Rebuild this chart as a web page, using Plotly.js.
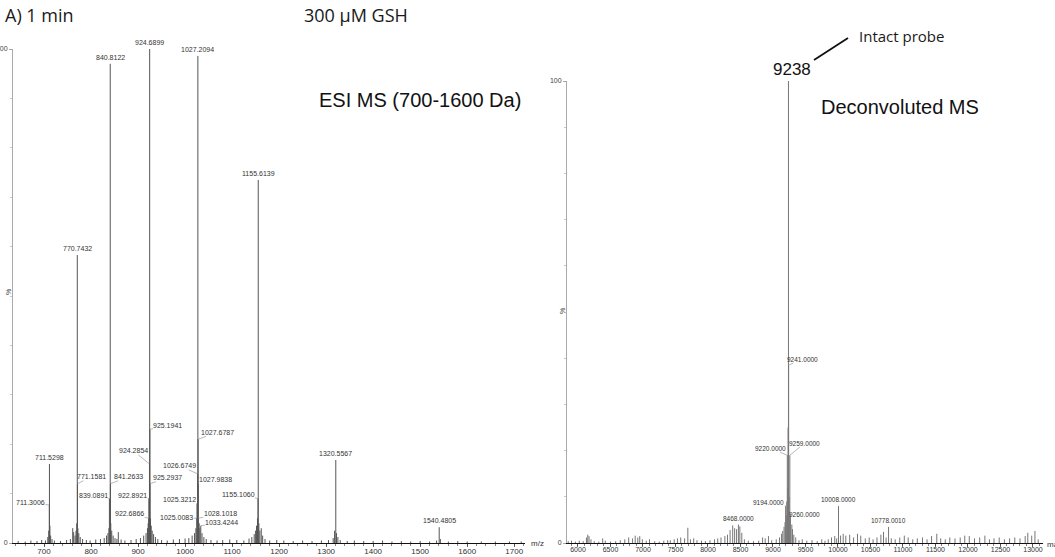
<!DOCTYPE html>
<html>
<head>
<meta charset="utf-8">
<script src="https://cdn.plot.ly/plotly-3.0.1.min.js"></script>
<style>html,body{margin:0;padding:0;background:#fff;}#chart{width:1055px;height:557px;}</style>
</head>
<body>
<div id="chart"></div>
<script>
// ---------- DATA ----------
// Left panel: ESI MS (m/z, relative intensity %)
const leftMainMz   = [711.5298, 770.7432, 840.8122, 924.6899, 1027.2094, 1155.6139, 1320.5567, 1540.4805];
const leftMainPct  = [16, 58.3, 97, 100, 98.6, 73.5, 16.8, 3.2];
const leftMinorMz  = [711.3006, 771.1581, 841.2633, 839.0891, 924.2854, 922.8921, 922.6866, 925.1941, 925.2937,
                      1027.6787, 1026.6749, 1027.9838, 1025.3212, 1025.0083, 1028.1018, 1033.4244, 1155.1060];
const leftMinorPct = [7.7, 12, 12, 9, 16, 9, 5, 23, 12, 21, 14, 12, 8, 5, 5, 3.5, 9];
const leftNoiseMz  = [645,660,672,685,695,703,708,710,712.5,714,717,722,735,748,756,761,763,766,768,769.5,772,774,777,782,790,798,
  810,820,828,833,836,838,842,844,847,851,855,858,864,872,885,896,905,912,917,920,921.5,926.5,928,930,933,937,942,950,962,975,
  988,1000,1008,1015,1020,1023,1030,1031.5,1036,1040,1045,1055,1068,1080,1095,1110,1125,1136,1142,1147,1150,1152,1154,1157,
  1159,1162,1165,1170,1180,1195,1210,1230,1250,1270,1290,1305,1315,1318,1322,1325,1330,1345,1360,1380,1400,1420,1440,1460,
  1480,1500,1520,1535,1543,1560,1580,1600,1630,1660,1690,1715];
const leftNoisePct = [0.4,0.3,0.5,0.4,0.6,0.5,1.2,2.5,3.5,1.5,0.8,0.5,0.4,0.6,0.8,3,2.2,1.5,2.5,4,3,2,1.2,0.8,0.6,0.5,
  0.7,0.8,1,1.5,2,3,4,2.5,1.5,1,0.8,2.2,0.7,0.5,0.6,0.8,1,1.5,2,3,4,5,3.5,2.5,1.8,1.2,0.8,0.6,0.5,0.7,
  0.8,0.9,1,1.5,2,3,4,3,2,1.2,0.8,0.6,0.5,0.6,0.7,0.6,0.5,0.9,1.2,1.8,2.5,3.5,5,4,
  2.5,3,1.5,0.8,0.5,0.6,0.5,0.4,0.5,0.4,0.5,0.6,1,2.5,2,1.2,0.6,0.4,0.5,0.4,0.4,0.5,0.3,0.4,
  0.3,0.4,0.3,0.5,0.8,0.3,0.4,0.3,0.3,0.3,0.3,0.3];
const leftXTicks = [700, 800, 900, 1000, 1100, 1200, 1300, 1400, 1500, 1600, 1700];

// Right panel: deconvoluted MS (mass, relative intensity %)
const rightMainMass  = [9238, 8468, 10008, 10778.001];
const rightMainPct   = [100, 4, 8, 3.5];
const rightMainText  = ["", "8468.0000", "10008.0000", "10778.0010"];
const rightMinorMass = [9241, 9220, 9259, 9194, 9260];
const rightMinorPct  = [38.5, 19, 19, 8, 5.5];
const rightNoiseMass = [5850,5900,5960,6020,6080,6130,6150,6170,6200,6250,6320,6380,6420,6500,6580,6650,6720,6780,6840,6880,
  6920,6950,6990,7050,7100,7180,7250,7320,7380,7420,7480,7530,7580,7640,7690,7730,7780,7830,7900,7960,8030,8100,8150,8200,
  8260,8300,8340,8380,8410,8440,8490,8520,8560,8620,8700,8780,8840,8880,8930,8980,9050,9100,9130,9150,9170,9185,9205,9212,
  9228,9232,9248,9268,9290,9300,9320,9350,9400,9450,9520,9600,9680,9750,9800,9850,9900,9950,9980,10040,10080,10120,10180,
  10240,10300,10350,10420,10480,10540,10600,10660,10700,10740,10820,10880,10950,11020,11080,11150,11220,11300,11370,11440,
  11520,11580,11650,11720,11800,11880,11950,12020,12100,12180,12260,12330,12400,12480,12560,12640,12720,12800,12880,12920,
  12980,13030,13080];
const rightNoisePct = [0.4,0.5,0.3,0.5,0.4,1.2,1.8,1.5,0.8,0.4,0.3,1,0.5,0.3,0.4,0.6,0.8,1.2,1,1.6,
  1.2,1.5,0.8,0.5,0.8,0.4,0.3,0.5,0.6,0.6,0.8,1,1.2,1,3.3,0.8,1,0.6,0.5,0.4,0.6,0.8,1,1.2,
  1.5,1.8,2.8,3.8,3.2,3,3.6,2.2,0.8,0.5,0.4,0.5,1.2,1,1.5,0.6,0.8,1.2,2,2.6,3.5,4.5,6,9,
  12,25,10,6,4,3,1.8,1.2,0.6,0.8,0.5,0.6,0.4,0.8,0.5,0.8,1.2,1.5,1,1.6,2,1.6,1.8,
  1.2,2,1.6,1,1.2,0.8,1.2,1.8,2.4,1.2,1,0.8,1.2,1.6,1.2,0.8,1,1.2,0.8,1.5,
  2,1,0.8,1.2,1,1.2,1.6,1.5,1,1.2,1.6,0.8,1,1.2,0.8,1,1.2,1,1.5,2.2,
  1.6,2.6,0.8];
const rightXTicks = [6000,6500,7000,7500,8000,8500,9000,9500,10000,10500,11000,11500,12000,12500,13000];

// ---------- HELPERS ----------
function sticks(xs, ys) {
  const X = [], Y = [];
  xs.forEach((x, i) => { X.push(x, x, null); Y.push(0, ys[i], null); });
  return {X, Y};
}
const L = sticks(leftNoiseMz.concat(leftMinorMz, leftMainMz), leftNoisePct.concat(leftMinorPct, leftMainPct));
const R = sticks(rightNoiseMass.concat(rightMinorMass, rightMainMass), rightNoisePct.concat(rightMinorPct, rightMainPct));

const traces = [
  {x: L.X, y: L.Y, type: 'scatter', mode: 'lines', xaxis: 'x', yaxis: 'y',
   line: {color: '#555', width: 1}, hoverinfo: 'skip', showlegend: false, connectgaps: false},
  {x: R.X, y: R.Y, type: 'scatter', mode: 'lines', xaxis: 'x2', yaxis: 'y2',
   line: {color: '#777', width: 1}, hoverinfo: 'skip', showlegend: false, connectgaps: false}
];

const W = 1055, H = 557;
const px = v => v / W, py = v => 1 - v / H;
const lblFont = {family: 'Liberation Sans, Arial, sans-serif', size: 7, color: '#333'};
const lblFontR = {family: 'Liberation Sans, Arial, sans-serif', size: 6.5, color: '#333'};

const annotations = [];
leftMainMz.forEach((m, i) => annotations.push({
  x: m, y: leftMainPct[i], xref: 'x', yref: 'y', text: m.toFixed(4), showarrow: false,
  yanchor: 'bottom', yshift: 1, font: lblFont
}));
const leftOffsets = [[-19,-2],[14,-7],[18,-7],[-16,-3],[-16,-13],[-16,-3],[-19,-5],[18,-4],[18,-6],
                     [19,-7],[-18,-8],[17,-4],[-17,-4],[-20,-1],[22,-5],[21,-3],[-20,-4]];
leftMinorMz.forEach((m, i) => annotations.push({
  x: m, y: leftMinorPct[i], xref: 'x', yref: 'y', text: m.toFixed(4), showarrow: true,
  arrowhead: 0, arrowwidth: 0.6, arrowcolor: '#888', ax: leftOffsets[i][0], ay: leftOffsets[i][1],
  standoff: 0, borderpad: 0, font: lblFont
}));
rightMainMass.forEach((m, i) => { if (rightMainText[i]) annotations.push({
  x: m, y: rightMainPct[i], xref: 'x2', yref: 'y2', text: rightMainText[i], showarrow: false,
  yanchor: 'bottom', yshift: 1, font: lblFontR
}); });
const rightOffsets = [[14,-6],[-17,-7],[15,-12],[-17,-4],[15,-3]];
rightMinorMass.forEach((m, i) => annotations.push({
  x: m, y: rightMinorPct[i], xref: 'x2', yref: 'y2', text: m.toFixed(4), showarrow: true,
  arrowhead: 0, arrowwidth: 0.6, arrowcolor: '#888', ax: rightOffsets[i][0], ay: rightOffsets[i][1],
  standoff: 0, borderpad: 0, font: lblFontR
}));
annotations.push({x: rightMainMass[0], y: rightMainPct[0], xref: 'x2', yref: 'y2', text: String(rightMainMass[0]),
  showarrow: false, yanchor: 'bottom', xshift: 4, yshift: 0,
  font: {family: 'Liberation Sans, Arial, sans-serif', size: 17, color: '#111'}});
const mk = (t, x, y, font, extra) => Object.assign({text: t, x: px(x), y: py(y), xref: 'paper', yref: 'paper',
  showarrow: false, font: font}, extra || {});
const myriad = s => ({family: 'Open Sans, Lato, sans-serif', size: s, color: '#1a1a1a'});
const arial = s => ({family: 'Liberation Sans, Arial, sans-serif', size: s, color: '#111'});
annotations.push(mk('A) 1 min', 3, 15, myriad(18), {xanchor: 'left', yanchor: 'middle'}));
annotations.push(mk('300 µM GSH', 356, 15, myriad(18), {xanchor: 'center', yanchor: 'middle'}));
annotations.push(mk('Intact probe', 857, 36, myriad(15), {xanchor: 'left', yanchor: 'middle'}));
annotations.push(mk('ESI MS (700-1600 Da)', 420, 100, arial(20), {xanchor: 'center', yanchor: 'middle'}));
annotations.push(mk('Deconvoluted MS', 900, 107, arial(20), {xanchor: 'center', yanchor: 'middle'}));
annotations.push(mk('%', 8, 292, {family: 'Liberation Sans, Arial', size: 7, color: '#444'}, {textangle: -90, xanchor: 'center', yanchor: 'middle'}));
annotations.push(mk('%', 562, 311, {family: 'Liberation Sans, Arial', size: 7, color: '#444'}, {textangle: -90, xanchor: 'center', yanchor: 'middle'}));
annotations.push(mk('m/z', 529, 543, {family: 'Liberation Sans, Arial', size: 8, color: '#333'}, {xanchor: 'left', yanchor: 'middle'}));
annotations.push(mk('mass', 1045, 544, {family: 'Liberation Sans, Arial', size: 8, color: '#333'}, {xanchor: 'left', yanchor: 'middle'}));

const tickFont = {family: 'Liberation Sans, Arial, sans-serif', size: 8, color: '#333'};
const xbase = {
  showline: true, linecolor: '#111', linewidth: 1, ticks: 'outside', ticklen: 3, tickcolor: '#444', tickwidth: 0.8,
  showgrid: false, zeroline: false, tickfont: tickFont, fixedrange: true, ticklabelstandoff: -3
};
const ybase = {
  showline: true, linecolor: '#aaa', linewidth: 1, ticks: 'outside', ticklen: 3, tickcolor: '#999', tickwidth: 0.8,
  showgrid: false, zeroline: false, tickfont: {family: 'Liberation Sans, Arial', size: 7, color: '#444'},
  range: [0, 100], tickvals: [0, 100], ticktext: ['0', '100'], fixedrange: true,
  minor: {dtick: 10, ticklen: 2, tickcolor: '#bbb', ticks: 'outside', tick0: 0}
};

const layout = {
  width: W, height: H, margin: {l: 0, r: 0, t: 0, b: 0}, paper_bgcolor: '#fff', plot_bgcolor: '#fff',
  font: {family: 'Liberation Sans, Arial, sans-serif'}, showlegend: false,
  xaxis: Object.assign({}, xbase, {domain: [px(13), px(525)], range: [634, 1723], anchor: 'y',
    tickvals: leftXTicks, ticktext: leftXTicks.map(String),
    minor: {dtick: 20, tick0: 700, ticklen: 2, tickcolor: '#666', ticks: 'outside'}}),
  yaxis: Object.assign({}, ybase, {domain: [py(543), py(49)], anchor: 'x'}),
  xaxis2: Object.assign({}, xbase, {domain: [px(567), px(1043)], range: [5831, 13154], anchor: 'y2',
    tickvals: rightXTicks, ticktext: rightXTicks.map(String),
    tickfont: {family: 'Liberation Sans, Arial', size: 7, color: '#333'},
    minor: {dtick: 100, tick0: 6000, ticklen: 2, tickcolor: '#666', ticks: 'outside'}}),
  yaxis2: Object.assign({}, ybase, {domain: [py(543), py(81)], anchor: 'x2'}),
  annotations: annotations,
  shapes: [{type: 'line', xref: 'paper', yref: 'paper', x0: px(814), y0: py(60), x1: px(848), y1: py(38),
            line: {color: '#111', width: 1.8}}]
};

Plotly.newPlot('chart', traces, layout, {displayModeBar: false, staticPlot: true});
</script>
</body>
</html>
